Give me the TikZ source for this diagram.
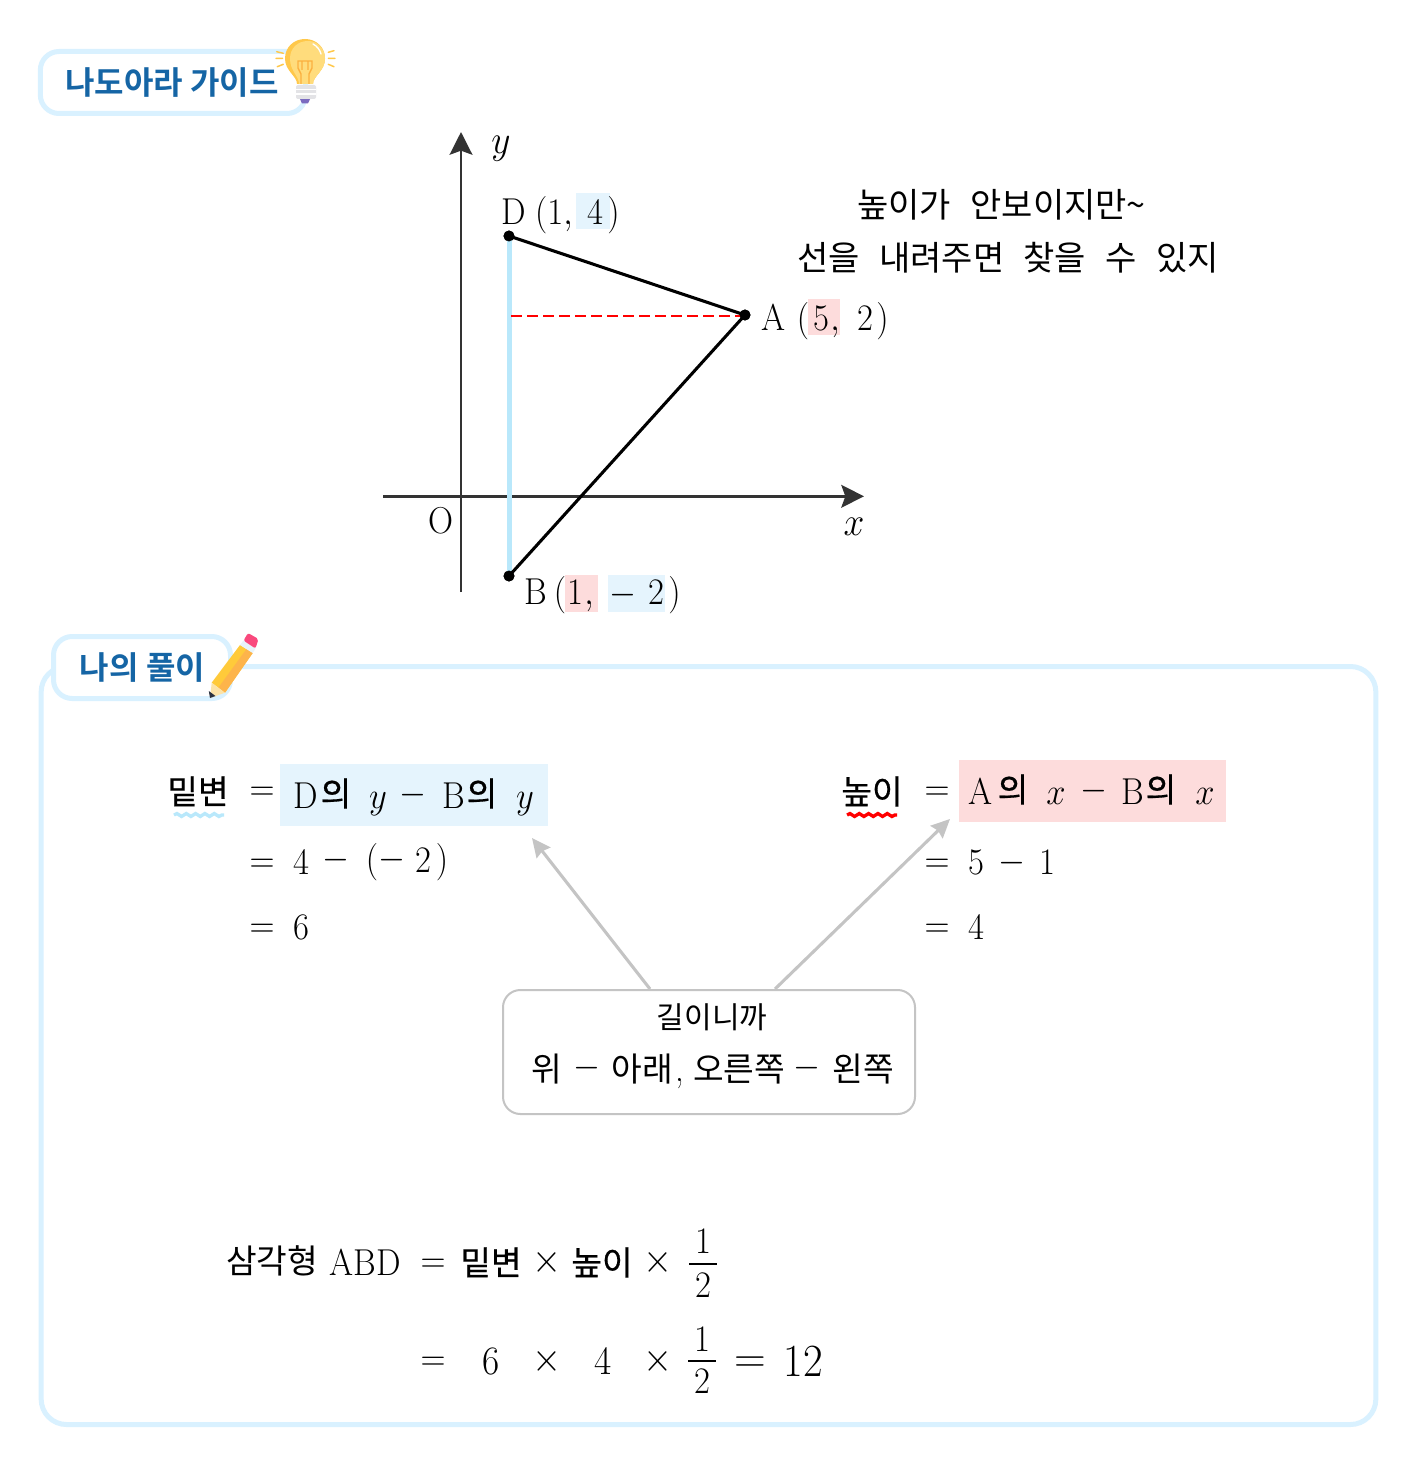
\documentclass[tikz,border=0pt]{standalone}
\usepackage{fix-cm}
\usepackage{fontspec}
\newfontfamily\kr{Noto Sans CJK KR}
\newfontfamily\krm[FakeBold=0.5]{Noto Sans CJK KR}
\newfontfamily\krb{Noto Sans CJK KR Bold}
\usetikzlibrary{arrows.meta,decorations.pathmorphing}
\definecolor{frame}{HTML}{D9F1FF}
\definecolor{title}{HTML}{1565A5}
\definecolor{hlblue}{HTML}{E5F4FD}
\definecolor{hlred}{HTML}{FDDCDC}
\definecolor{axis}{HTML}{333333}
\definecolor{sky}{HTML}{B9E8FB}
\definecolor{callgray}{HTML}{C4C4C4}
\definecolor{bulbout}{HTML}{FFC84A}
\definecolor{bulbin}{HTML}{FFDC7C}
\definecolor{fil}{HTML}{FBB040}
\definecolor{basegray}{HTML}{E3E3E6}
\definecolor{tipviolet}{HTML}{7B6BC0}
\definecolor{pyellow}{HTML}{FFCA3A}
\definecolor{pshade}{HTML}{FDB44B}
\definecolor{pwood}{HTML}{FCE3A8}
\definecolor{ppink}{HTML}{F9497D}
\definecolor{pdark}{HTML}{2B3240}
\definecolor{pband}{HTML}{E8F4FA}
\tikzset{
  tx/.style={anchor=base,inner sep=0pt,outer sep=0pt,font=\fontsize{26}{30}\selectfont},
  txl/.style={tx,font=\fontsize{28}{32}\selectfont},
  ktx/.style={tx,font=\fontsize{25}{30}\selectfont\kr},
  kmd/.style={tx,font=\fontsize{25}{30}\selectfont\krm},
  knote/.style={tx,font=\fontsize{25.5}{30}\selectfont\kr},
  ktitle/.style={tx,font=\fontsize{24}{30}\selectfont\krb,text=title},
  hl/.style={rectangle,inner sep=0pt,outer sep=0pt,draw=none},
  framebox/.style={rectangle,draw=frame,line width=3.75pt,inner sep=0pt,outer sep=0pt},
  pt/.style={circle,fill=black,inner sep=0pt,minimum size=8.2pt,outer sep=0pt},
  axisline/.style={draw=axis,line width=2.2pt,-{Stealth[length=17pt,width=17pt,inset=3pt]}},
  tri/.style={draw=black,line width=2.3pt},
  grayarrow/.style={draw=callgray,line width=2.3pt,-{Stealth[length=14pt,width=13pt,inset=1.5pt]}},
  wavy/.style={decorate,decoration={snake,segment length=7pt,amplitude=1.1pt},line width=2.5pt},
  ray/.style={draw=bulbout,line width=1.1pt,line cap=round}
}
\newcommand{\st}[1]{\scalebox{1}[1.08]{#1}}
\newcommand{\tx}[4]{\node[tx] (#1) at (#2,#3) {\st{#4}};}
\newcommand{\tl}[4]{\node[txl] (#1) at (#2,#3) {\st{#4}};}
\newcommand{\kx}[4]{\node[ktx] (#1) at (#2,#3) {#4};}
\newcommand{\km}[4]{\node[kmd] (#1) at (#2,#3) {#4};}
\begin{document}
\begin{tikzpicture}[x=0.75pt,y=-0.75pt]
\useasboundingbox (0,0) rectangle (1416,1466);
\fill[white] (0,0) rectangle (1416,1466);

% header tab
\node[framebox,fill=white,minimum width=199pt,minimum height=46.5pt,rounded corners=14pt] (guidebox) at (173,82.5) {};
\node[ktitle] (guidetitle) at (172,95) {나도아라 가이드};

% bulb
\draw[ray] (276.7,51.7) -- (283.3,53.3) (276,58.3) -- (282.7,58.3) (277.3,66.7) -- (283.3,64.3)
  (328.3,52.3) -- (334,50.7) (328.3,58.3) -- (335,58.3) (328.3,64.3) -- (334,66.7);
\fill[tipviolet] (299.5,98) -- (310.5,98) -- (308,103.5) -- (302,103.5) -- cycle;
\fill[bulbout] (297,84) .. controls (297,76) and (285,71) .. (285,58.5)
  .. controls (285,47) and (294,39) .. (305,39)
  .. controls (316,39) and (325,47) .. (325,58.5)
  .. controls (325,71) and (313,76) .. (313,84) -- cycle;
\fill[bulbin] (299,84) .. controls (299,76) and (290,71) .. (290,58.5)
  .. controls (290,48) and (298,41) .. (308,41)
  .. controls (318,41) and (325,49) .. (325,58.5)
  .. controls (325,71) and (313,76) .. (313,84) -- cycle;
\draw[fil,line width=1.1pt] (301,84) -- (301,74) -- (298,68) -- (298,61) -- (302,61) -- (302,70) (309,84) -- (309,74) -- (312,68) -- (312,61) -- (308,61) -- (308,70) (302,61) -- (308,61);
\draw[white,line width=1pt,line cap=round] (313,44) .. controls (317,46) and (320,50) .. (321,54);
\fill[basegray,rounded corners=1.5pt] (296,85) rectangle (316,99);
\draw[white,line width=.8pt] (296,89.5) -- (316,89.5) (296,94) -- (316,94);

% axes
\coordinate (yfrom) at (461,592);
\coordinate (yto) at (461,132);
\coordinate (xfrom) at (383,496.3);
\coordinate (xto) at (864,496.3);
\draw[axisline] (yfrom) -- (yto);
\draw[axisline] (xfrom) -- (xto);
\tl{ylab}{501}{154}{$y$}
\tl{xlab}{854}{535}{$x$}
\tx{olab}{441}{533}{O}

% highlights
\node[hl,fill=hlblue,minimum width=25.5pt,minimum height=27pt] (h4) at (593,211) {};
\node[hl,fill=hlred,minimum width=24pt,minimum height=27pt] (h5) at (824,317) {};
\node[hl,fill=hlred,minimum width=24.75pt,minimum height=27.75pt] (h1) at (581.5,593.5) {};
\node[hl,fill=hlblue,minimum width=42.75pt,minimum height=27.75pt] (hm2) at (636.5,593.5) {};

% triangle
\node[pt] (D) at (509,236) {};
\node[pt] (A) at (745,315) {};
\node[pt] (B) at (509,576) {};
\coordinate (H) at (511,316);
\draw[draw=sky,line width=3.75pt] (D.center) -- (B.center);
\draw[draw=red,line width=2.2pt,dash pattern=on 8.5pt off 3.5pt] (H) -- (A |- H);
\draw[tri] (D.center) -- (A.center) -- (B.center);
\node[pt] (Dtop) at (D) {};
\node[pt] (Btop) at (B) {};
\node[pt] (Atop) at (A) {};

% point labels
\tx{dl}{514}{224}{D}
\tx{dp}{554}{224}{$(1,$}
\tx{d4}{595}{224}{4}
\tx{dr}{613.5}{224}{$)$}
\tx{al}{774}{330}{A}
\tx{ap}{803}{330}{$($}
\tx{a5}{821}{330}{5}
\tx{ac}{835}{330}{$,$}
\tx{a2}{865}{330}{2}
\tx{ar}{882.5}{330}{$)$}
\tx{bl}{536}{604.5}{B}
\tx{bp}{560}{604.5}{$($}
\tx{b1}{575}{604.5}{1}
\tx{bc}{589}{604.5}{$,$}
\tx{bm}{623}{604.5}{$-$}
\tx{b2}{656}{604.5}{2}
\tx{br}{674.5}{604.5}{$)$}

% note
\node[knote] (note1) at (1001.5,217) {높이가\hspace{14.5pt}안보이지만\textasciitilde};
\node[knote] (note2) at (1008,270) {선을\hspace{14.5pt}내려주면\hspace{14.5pt}찾을\hspace{14.5pt}수\hspace{14.5pt}있지};

% main frame
\node[framebox,minimum width=1001pt,minimum height=568.5pt,rounded corners=19pt] (mainbox) at (708.5,1045.5) {};
\node[framebox,fill=white,minimum width=132.75pt,minimum height=46.5pt,rounded corners=14pt] (tabbox) at (142,667.5) {};
\node[ktitle] (tabtitle) at (142.5,679) {나의 풀이};

% pencil
\fill[pyellow] (211.7,682.7) -- (240,645) -- (252.7,653) -- (225,692.7) -- cycle;
\fill[pshade] (218.5,687.5) -- (246.5,649) -- (252.7,653) -- (225,692.7) -- cycle;
\fill[pwood] (211.7,682.7) -- (225,692.7) -- (210,698) -- cycle;
\fill[pdark] (210,698) -- (208.8,691) -- (215.5,696) -- cycle;
\fill[pband] (240,645) -- (243.5,640.5) -- (255.5,648.5) -- (252.7,653) -- cycle;
\fill[ppink,rounded corners=1.5pt] (243.5,640.5) -- (248,633) -- (258.5,639) -- (255.5,648.5) -- cycle;

% left computation
\km{mb1}{198}{804}{밑변}
\coordinate (wa) at (174,815);
\coordinate (wb) at (224,815);
\draw[wavy,sky] (wa) -- (wb);
\tx{eqa}{262}{800}{$=$}
\node[hl,fill=hlblue,minimum width=201pt,minimum height=46.5pt] (hleft) at (414,795) {};
\tx{ld}{305.5}{808.5}{D}
\km{lk1}{336}{806}{의}
\tx{ly1}{378}{808.5}{$y$}
\tx{lm}{413}{804}{$-$}
\tx{lb}{453.5}{808.5}{B}
\km{lk2}{482}{806}{의}
\tx{ly2}{525}{808.5}{$y$}
\tx{eqb}{262}{872.5}{$=$}
\tx{l4}{301}{874}{4}
\tx{lm2}{336}{869}{$-$}
\tx{lp}{372}{871}{$($}
\tx{lm3}{392}{869}{$-$}
\tx{l2}{423}{872.5}{2}
\tx{lr}{442}{871}{$)$}
\tx{eqc}{262}{937.5}{$=$}
\tx{l6}{301}{939}{6}

% right computation
\km{nb1}{872}{804}{높이}
\coordinate (wc) at (847,815);
\coordinate (wd) at (897,815);
\draw[wavy,red] (wc) -- (wd);
\tx{eqd}{937}{800}{$=$}
\node[hl,fill=hlred,minimum width=200.25pt,minimum height=46.5pt] (hright) at (1092.5,791) {};
\tx{ra}{980}{804}{A}
\km{rk1}{1013}{802}{의}
\tx{rx1}{1056}{804}{$x$}
\tx{rm}{1094}{800}{$-$}
\tx{rb}{1133}{804}{B}
\km{rk2}{1161}{802}{의}
\tx{rx2}{1205}{804}{$x$}
\tx{eqe}{937}{872.5}{$=$}
\tx{r5}{976}{874}{5}
\tx{rm2}{1012}{872.5}{$-$}
\tx{r1}{1047}{874}{1}
\tx{eqf}{937}{937.5}{$=$}
\tx{r4}{976}{939}{4}

% callout
\node[rectangle,draw=callgray,line width=1.5pt,fill=white,minimum width=309pt,minimum height=93pt,rounded corners=13pt,inner sep=0pt,outer sep=0pt] (callout) at (709,1052) {};
\coordinate (s1) at (650,989);
\coordinate (e1) at (532,838);
\coordinate (s2) at (775,989);
\coordinate (e2) at (950,819);
\draw[grayarrow] (s1) -- (e1);
\draw[grayarrow] (s2) -- (e2);
\node[tx,font=\fontsize{22.5}{28}\selectfont\kr] (c1) at (712,1028) {길이니까};
\kx{c2a}{547}{1081}{위}
\tx{c2b}{587}{1077}{$-$}
\kx{c2c}{642}{1081}{아래}
\tx{c2k}{679.5}{1081}{,}
\kx{c2d}{739}{1081}{오른쪽}
\tx{c2e}{807}{1077}{$-$}
\kx{c2f}{863}{1081}{왼쪽}

% area
\kx{s1t}{272}{1273}{삼각형}
\tx{s1l}{365}{1275.5}{ABD}
\tx{s1e}{433}{1272}{$=$}
\km{s1a}{491}{1275}{밑변}
\tl{s1x}{547}{1272.5}{$\times$}
\km{s1b}{602}{1275}{높이}
\tl{s1y}{658}{1272.5}{$\times$}
\tx{s1n}{703}{1253.5}{1}
\coordinate (fa) at (689,1264);
\coordinate (fb) at (717,1264);
\draw[line width=1.1pt] (fa) -- (fb);
\tx{s1d}{703}{1297}{2}
\tx{s2e}{433}{1370}{$=$}
\tl{s2a}{491}{1374.5}{6}
\tl{s2x}{547}{1371}{$\times$}
\tl{s2b}{603}{1374.5}{4}
\tl{s2y}{658}{1371}{$\times$}
\tx{s2n}{702}{1351.5}{1}
\coordinate (fc) at (688,1361);
\coordinate (fd) at (716,1361);
\draw[line width=1.1pt] (fc) -- (fd);
\tx{s2d}{702}{1393.5}{2}
\node[tx,font=\fontsize{33}{38}\selectfont] (s2q) at (750,1372) {$=$};
\node[tx,font=\fontsize{32}{38}\selectfont] (s2r) at (803.5,1376) {\st{12}};
\end{tikzpicture}
\end{document}
